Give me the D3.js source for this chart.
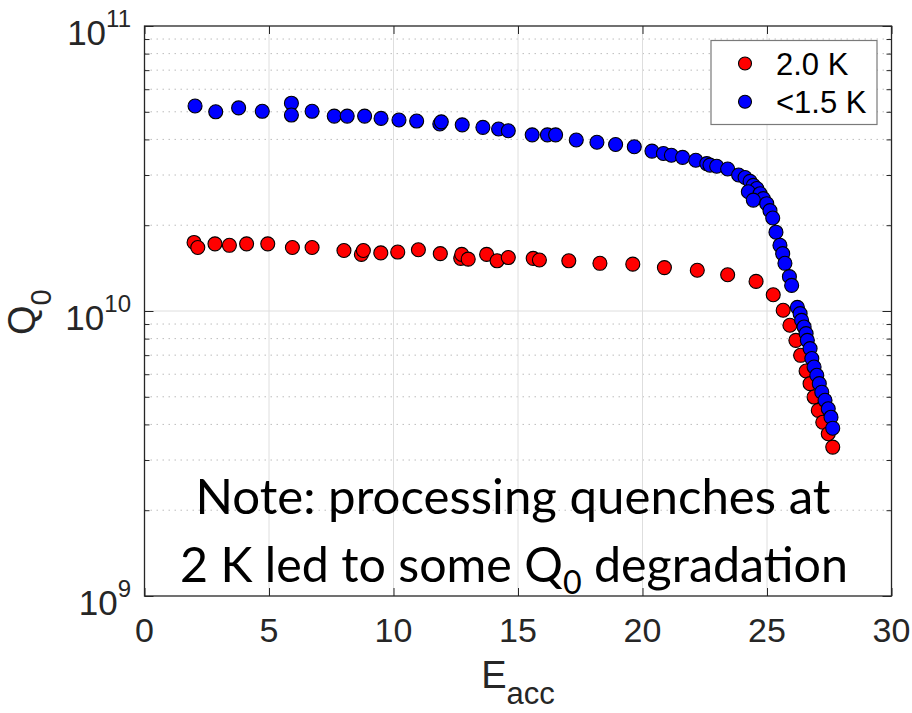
<!DOCTYPE html>
<html><head><meta charset="utf-8">
<script src="https://cdn.jsdelivr.net/npm/d3@7"></script>
<style>body{margin:0;background:#fff}svg{display:block}</style>
</head><body>
<svg id="c" width="912" height="713"></svg>
<script>
// ---- data ----
const xTicks = [0, 5, 10, 15, 20, 25, 30];
const yTickExps = [9, 10, 11];
const seriesNames = ["2.0 K", "<1.5 K"];
const seriesColors = ["#ff0000", "#0000ff"];

const redE = [1.99, 2.14, 2.83, 3.41, 4.10, 4.95, 5.94, 6.73, 8.01, 8.71, 8.79, 9.49, 10.17, 11.00, 11.88, 12.70, 12.74, 13.00, 13.74, 14.16, 14.61,
  15.61, 15.86, 17.04, 18.29, 19.61, 20.88, 22.20, 23.42, 24.56, 25.25, 25.65, 25.92, 26.16, 26.35, 26.57, 26.73, 26.89, 27.06, 27.24, 27.46, 27.64];
const redQ = [1.74e10, 1.67e10, 1.72e10, 1.70e10, 1.72e10, 1.72e10, 1.67e10, 1.67e10, 1.63e10, 1.58e10, 1.63e10, 1.60e10, 1.61e10, 1.64e10, 1.59e10, 1.53e10, 1.58e10, 1.52e10, 1.58e10, 1.50e10, 1.54e10,
  1.53e10, 1.51e10, 1.50e10, 1.47e10, 1.46e10, 1.42e10, 1.39e10, 1.34e10, 1.27e10, 1.14e10, 1.006e10, 8.91e9, 7.89e9, 6.99e9, 6.16e9, 5.56e9, 4.99e9, 4.48e9, 4.07e9, 3.71e9, 3.33e9];

const blueE = [2.03, 2.86, 3.78, 4.73, 5.90, 5.90, 6.73, 7.62, 8.14, 8.84, 9.50, 10.22, 10.93, 11.86, 11.92, 12.76, 13.59, 14.22, 14.61,
  15.57, 16.18, 16.51, 17.34, 18.17, 18.92, 19.67, 20.38, 20.84, 21.16, 21.61, 22.14, 22.58, 22.71, 22.98, 23.42, 23.86, 24.12, 24.32, 24.45, 24.59,
  24.25, 24.72, 24.85, 24.45, 24.99, 25.12, 25.23, 25.36, 25.52, 25.63, 25.72, 25.90, 25.99, 26.22, 26.33, 26.39, 26.49, 26.57, 26.62, 26.73,
  26.80, 26.89, 27.00, 27.10, 27.20, 27.33, 27.46, 27.57, 27.64];
const blueQ = [5.24e10, 5.00e10, 5.16e10, 5.02e10, 5.36e10, 4.87e10, 5.02e10, 4.83e10, 4.83e10, 4.83e10, 4.74e10, 4.68e10, 4.64e10, 4.53e10, 4.61e10, 4.50e10, 4.41e10, 4.35e10, 4.29e10,
  4.15e10, 4.15e10, 4.15e10, 3.98e10, 3.91e10, 3.84e10, 3.77e10, 3.64e10, 3.57e10, 3.52e10, 3.46e10, 3.38e10, 3.29e10, 3.25e10, 3.22e10, 3.15e10, 3.00e10, 2.94e10, 2.85e10, 2.76e10, 2.69e10,
  2.62e10, 2.58e10, 2.48e10, 2.45e10, 2.38e10, 2.25e10, 2.12e10, 1.89e10, 1.70e10, 1.59e10, 1.47e10, 1.32e10, 1.23e10, 1.03e10, 9.79e9, 9.27e9, 8.79e9, 8.33e9, 7.89e9, 7.38e9,
  6.81e9, 6.36e9, 5.95e9, 5.56e9, 5.19e9, 4.86e9, 4.54e9, 4.24e9, 3.88e9];

const noteLines = ["Note: processing quenches at", "2 K led to some Q", "0", " degradation"];

// ---- layout ----
const L = 144.5, R = 891.5, T = 26, B = 596;
const svg = d3.select("#c");
const x = d3.scaleLinear().domain([0, 30]).range([L, R]);
const y = d3.scaleLog().domain([1e9, 1e11]).range([B, T]);
const axisCol = "#262626";
const font = "'Liberation Sans', Arial, Helvetica, sans-serif";

// grid
const g = svg.append("g");
const minorVals = [];
[1e9, 1e10].forEach(d => { for (let k = 2; k <= 9; k++) minorVals.push(d * k); });
g.selectAll(".ming").data(minorVals).join("line")
  .attr("x1", L).attr("x2", R).attr("y1", d => y(d)).attr("y2", d => y(d))
  .attr("stroke", "#bdbdbd").attr("stroke-width", 1).attr("stroke-dasharray", "1.5,4.5");
g.selectAll(".majx").data(xTicks.slice(1, -1)).join("line")
  .attr("x1", d => x(d)).attr("x2", d => x(d)).attr("y1", T).attr("y2", B)
  .attr("stroke", "#dedede").attr("stroke-width", 1);
g.append("line").attr("x1", L).attr("x2", R).attr("y1", y(1e10)).attr("y2", y(1e10))
  .attr("stroke", "#dedede").attr("stroke-width", 1);

// data marks
function drawSeries(E, Q, col) {
  svg.append("g").selectAll("circle").data(E.map((e, i) => [e, Q[i]])).join("circle")
    .attr("cx", d => x(d[0])).attr("cy", d => y(d[1])).attr("r", 7)
    .attr("fill", col).attr("stroke", "#000").attr("stroke-width", 1.1);
}
drawSeries(redE, redQ, seriesColors[0]);
drawSeries(blueE, blueQ, seriesColors[1]);

// axes (box with inward ticks)
const ax = svg.append("g");
const axB = d3.axisBottom(x).tickValues(xTicks).tickSize(-8).tickFormat("");
const axT = d3.axisTop(x).tickValues(xTicks).tickSize(-8).tickFormat("");
ax.append("g").attr("transform", `translate(0,${B})`).call(axB);
ax.append("g").attr("transform", `translate(0,${T})`).call(axT);
const majY = yTickExps.map(e => Math.pow(10, e));
ax.append("g").attr("transform", `translate(${L},0)`).call(d3.axisLeft(y).tickValues(majY).tickSize(-9).tickFormat(""));
ax.append("g").attr("transform", `translate(${R},0)`).call(d3.axisRight(y).tickValues(majY).tickSize(-9).tickFormat(""));
ax.append("g").attr("transform", `translate(${L},0)`).call(d3.axisLeft(y).tickValues(minorVals).tickSize(-5).tickFormat(""));
ax.append("g").attr("transform", `translate(${R},0)`).call(d3.axisRight(y).tickValues(minorVals).tickSize(-5).tickFormat(""));
ax.selectAll(".tick line").attr("stroke", axisCol).attr("stroke-width", 1);
ax.selectAll("path.domain").remove();
ax.append("rect").attr("x", L).attr("y", T).attr("width", R - L).attr("height", B - T)
  .attr("fill", "none").attr("stroke", axisCol).attr("stroke-width", 1.3);

// tick labels
svg.append("g").selectAll("text").data(xTicks).join("text")
  .attr("x", d => x(d)).attr("y", B + 46).attr("text-anchor", "middle")
  .attr("font-family", font).attr("font-size", 34).attr("fill", axisCol).text(d => d);
const yl = svg.append("g").selectAll("text").data(yTickExps).join("text")
  .attr("x", 131).attr("y", d => y(Math.pow(10, d)) + 19).attr("text-anchor", "end")
  .attr("font-family", font).attr("fill", axisCol);
yl.append("tspan").attr("font-size", 35).text("10");
yl.append("tspan").attr("font-size", 24).attr("dy", -18).text(d => d);

// axis labels
const xl = svg.append("text").attr("x", 518).attr("y", 688).attr("text-anchor", "middle")
  .attr("font-family", font).attr("fill", axisCol);
xl.append("tspan").attr("font-size", 38).text("E");
xl.append("tspan").attr("font-size", 31).attr("dy", 16).text("acc");
const ylab = svg.append("text").attr("transform", "translate(35,335) rotate(-90)")
  .attr("font-family", font).attr("fill", axisCol);
ylab.append("tspan").attr("font-size", 38).text("Q");
ylab.append("tspan").attr("font-size", 29).attr("dy", 16).text("0");

// legend
const lg = svg.append("g");
lg.append("rect").attr("x", 711).attr("y", 40.5).attr("width", 166).attr("height", 84)
  .attr("fill", "#fff").attr("stroke", "#7a7a7a").attr("stroke-width", 1.2);
seriesNames.forEach((n, i) => {
  const yy = 63.5 + i * 38.3;
  lg.append("circle").attr("cx", 745).attr("cy", yy).attr("r", 6.5)
    .attr("fill", seriesColors[i]).attr("stroke", "#000").attr("stroke-width", 1.1);
  lg.append("text").attr("x", 776).attr("y", yy + 11.5).attr("font-family", font)
    .attr("font-size", 31).attr("fill", "#000").text(n);
});

// note
const nf = "Lato, 'Open Sans', sans-serif";
svg.append("text").attr("x", 513).attr("y", 514).attr("text-anchor", "middle")
  .attr("font-family", nf).attr("font-size", 48).attr("fill", "#000")
  .attr("textLength", 635).attr("lengthAdjust", "spacingAndGlyphs").text(noteLines[0]);
const n2 = svg.append("text").attr("x", 180).attr("y", 582)
  .attr("font-family", nf).attr("font-size", 48).attr("fill", "#000")
  .attr("textLength", 668).attr("lengthAdjust", "spacingAndGlyphs");
n2.append("tspan").text(noteLines[1]);
n2.append("tspan").attr("font-size", 32).attr("dy", 12).text(noteLines[2]);
n2.append("tspan").attr("dy", -12).text(noteLines[3]);
</script>
</body></html>
